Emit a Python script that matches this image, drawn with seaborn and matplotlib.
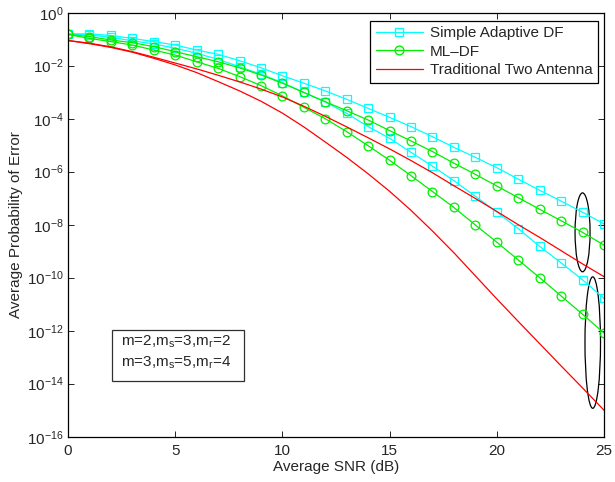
import numpy as np
import pandas as pd
import matplotlib
matplotlib.use("Agg")
import matplotlib.pyplot as plt
from matplotlib.patches import Ellipse, Rectangle
from matplotlib.lines import Line2D
import seaborn as sns

# ---------------- data (log10 of error probability) -------------
snr_db = list(range(0, 26))

cyan_upper_log10 = [-0.80, -0.80, -0.86, -0.97, -1.09, -1.22, -1.41, -1.57, -1.81, -2.08,
                    -2.38, -2.66, -2.95, -3.27, -3.61, -3.95, -4.30, -4.68, -5.08, -5.46,
                    -5.85, -6.28, -6.70, -7.11, -7.53, -7.97]
cyan_lower_log10 = [-0.80, -0.84, -0.93, -1.06, -1.18, -1.34, -1.53, -1.76, -2.04, -2.32,
                    -2.64, -3.01, -3.37, -3.80, -4.30, -4.74, -5.27, -5.79, -6.34, -6.93,
                    -7.52, -8.15, -8.82, -9.44, -10.08, -10.78]
green_upper_log10 = [-0.82, -0.90, -1.03, -1.13, -1.28, -1.47, -1.66, -1.85, -2.08, -2.35,
                     -2.66, -3.01, -3.36, -3.70, -4.05, -4.45, -4.84, -5.24, -5.68, -6.10,
                     -6.54, -6.98, -7.42, -7.85, -8.29, -8.77]
green_lower_log10 = [-0.82, -0.97, -1.09, -1.22, -1.41, -1.60, -1.85, -2.10, -2.41, -2.75,
                     -3.14, -3.57, -4.00, -4.49, -5.02, -5.57, -6.15, -6.75, -7.35, -8.01,
                     -8.66, -9.33, -10.00, -10.69, -11.38, -12.09]
red_upper_log10 = [-1.05, -1.15, -1.29, -1.47, -1.68, -1.90, -2.12, -2.36, -2.61, -2.88,
                   -3.18, -3.53, -3.91, -4.31, -4.72, -5.14, -5.58, -6.04, -6.53, -7.01,
                   -7.50, -8.00, -8.48, -8.98, -9.48, -9.96]
red_lower_log10 = [-1.05, -1.17, -1.31, -1.49, -1.72, -1.97, -2.26, -2.60, -2.95, -3.34,
                   -3.79, -4.31, -4.88, -5.46, -6.08, -6.74, -7.46, -8.24, -9.06, -9.93,
                   -10.80, -11.65, -12.49, -13.33, -14.16, -15.00]

legend_labels = ["Simple Adaptive DF", "ML\u2013DF", "Traditional Two Antenna"]
x_ticks = [0, 5, 10, 15, 20, 25]
y_tick_exponents = [0, -2, -4, -6, -8, -10, -12, -14, -16]
annotation_lines = [r"m=2,m$_\mathregular{s}$=3,m$_\mathregular{r}$=2",
                    r"m=3,m$_\mathregular{s}$=5,m$_\mathregular{r}$=4"]

# ---------------- style -------------
sns.set_style("ticks")
plt.rcParams["font.family"] = ["Liberation Sans", "DejaVu Sans"]
plt.rcParams["mathtext.fontset"] = "custom"
plt.rcParams["mathtext.rm"] = "Liberation Sans"
plt.rcParams["mathtext.it"] = "Liberation Sans:italic"
plt.rcParams["mathtext.bf"] = "Liberation Sans:bold"

CYAN = "#00FFFF"
GREEN = "#00EE00"
RED = "#FF0000"
SQ_SIZE = 5.6
CI_SIZE = 6.3

fig = plt.figure(figsize=(6.15, 4.82), dpi=100)
ax = fig.add_axes([68 / 615, 45.3 / 482, 536 / 615, 424 / 482])

series = [
    (cyan_upper_log10, CYAN, "s"),
    (cyan_lower_log10, CYAN, "s"),
    (green_upper_log10, GREEN, "o"),
    (green_lower_log10, GREEN, "o"),
    (red_upper_log10, RED, None),
    (red_lower_log10, RED, None),
]

for vals, col, mk in series:
    df = pd.DataFrame({"snr": snr_db, "pe": 10.0 ** np.array(vals)})
    kw = dict(x="snr", y="pe", data=df, ax=ax, color=col, linewidth=0.9, legend=False)
    if mk is not None:
        kw.update(marker=mk, markersize=CI_SIZE if mk == "o" else SQ_SIZE,
                  markerfacecolor="none", markeredgecolor=col, markeredgewidth=0.9)
    sns.lineplot(**kw)

ax.set_yscale("log")
ax.set_xlim(0, 25)
ax.set_ylim(1e-16, 1e0)
ax.set_xticks(x_ticks)
ax.set_yticks([10.0 ** e for e in y_tick_exponents])
ax.set_yticklabels([r"$\mathregular{10^{%d}}$" % e for e in y_tick_exponents])
ax.yaxis.set_minor_locator(matplotlib.ticker.NullLocator())
ax.tick_params(which="both", direction="in", top=True, right=True, length=4,
               width=0.6, labelsize=11, color="black")
ax.tick_params(axis="x", pad=5)
ax.tick_params(axis="y", pad=3)
for sp in ax.spines.values():
    sp.set_visible(True)
    sp.set_color("black")
    sp.set_linewidth(0.9)

ax.set_xlabel("Average SNR (dB)", fontsize=11, labelpad=2)
ax.set_ylabel("Average Probability of Error", fontsize=11, labelpad=3)

# legend
handles = [
    Line2D([], [], color=CYAN, lw=0.9, marker="s", markersize=SQ_SIZE, markerfacecolor="none", markeredgecolor=CYAN),
    Line2D([], [], color=GREEN, lw=0.9, marker="o", markersize=CI_SIZE, markerfacecolor="none", markeredgecolor=GREEN),
    Line2D([], [], color=RED, lw=0.9),
]
leg = ax.legend(handles, legend_labels, loc="upper right", bbox_to_anchor=(0.9885, 0.981),
                fontsize=11, frameon=True, fancybox=False, framealpha=1, edgecolor="black",
                handlelength=3.1, handletextpad=0.45, labelspacing=0.3, borderpad=0.35,
                borderaxespad=0.0)
leg.get_frame().set_linewidth(0.9)

# ellipses (annotation, axes fraction coords)
ax.add_patch(Ellipse((0.960, 0.482), 0.028, 0.186, transform=ax.transAxes,
                     fill=False, edgecolor="black", lw=0.9, clip_on=False))
ax.add_patch(Ellipse((0.979, 0.222), 0.029, 0.310, transform=ax.transAxes,
                     fill=False, edgecolor="black", lw=0.9, clip_on=False))

# annotation text box
ax.add_patch(Rectangle((0.0815, 0.131), 0.2475, 0.1195, transform=ax.transAxes,
                       fill=True, facecolor="white", edgecolor="#303030", lw=0.9))
ax.text(0.0983, 0.214, annotation_lines[0], transform=ax.transAxes, fontsize=11,
        ha="left", va="baseline")
ax.text(0.0983, 0.166, annotation_lines[1], transform=ax.transAxes, fontsize=11,
        ha="left", va="baseline")

fig.savefig("out.png", dpi=100)
